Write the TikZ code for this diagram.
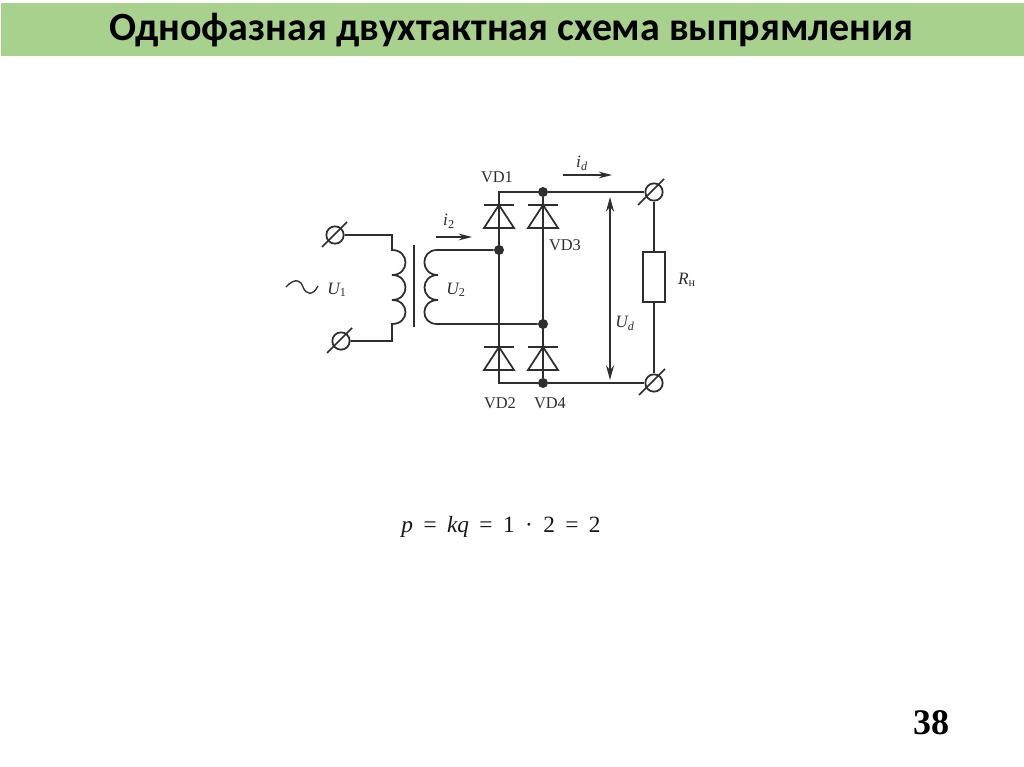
\documentclass[tikz,border=0pt]{standalone}
\usepackage{fontspec}
\setmainfont{Liberation Serif}
\newfontfamily\titlefont{Carlito}
\usetikzlibrary{arrows.meta}
\definecolor{titlegreen}{HTML}{A9D18E}
\definecolor{ink}{HTML}{2E2E2E}
\tikzset{
  wire/.style={draw=ink,line width=1.3pt},
  dot/.style={circle,fill=ink,draw=none,minimum size=7.5pt,inner sep=0pt},
  terminal/.style={circle,draw=ink,line width=1.3pt,fill=none,minimum size=13pt,inner sep=0pt},
  flow/.style={draw=ink,line width=1pt,-{Stealth[length=10pt,width=5pt]}},
  lab/.style={text=ink,font=\fontsize{12.3}{14}\selectfont,inner sep=0pt},
  sym/.style={text=ink,font=\fontsize{13}{15}\selectfont\itshape,inner sep=0pt},
}
\begin{document}
\begin{tikzpicture}[x=0.75pt,y=-0.75pt]
\useasboundingbox (0,0) rectangle (1024,767);
\fill[white] (0,0) rectangle (1024,767);
\fill[titlegreen] (1,3) rectangle (1024,56);
\node[text=black,font=\titlefont\bfseries\fontsize{30}{34}\selectfont,inner sep=0pt] (title) at (511.5,30) {Однофазная двухтактная схема выпрямления};
% terminals
\node[terminal] (t1) at (335,235) {};
\node[terminal] (t2) at (341,341) {};
\node[terminal] (t3) at (654,192) {};
\node[terminal] (t4) at (654,383) {};
\foreach \n/\a/\b/\c/\d in {t1/322/247/347/222,t2/327/353/352/328,t3/638/205/664/179,t4/639/395/665/369}
  \draw[wire] (\a,\b) -- (\c,\d);
% junctions
\node[dot] (j1) at (543,192) {};
\node[dot] (j2) at (499,250) {};
\node[dot] (j3) at (543,324) {};
\node[dot] (j4) at (543,383) {};
\coordinate (a1) at (499,192);
\coordinate (a2) at (499,383);
\coordinate (p1) at (392,235);
\coordinate (p2) at (392,250);
\coordinate (p3) at (392,324);
\coordinate (p4) at (392,341);
% primary winding
\draw[wire] (t1) -- (p1) -- (p2)
  .. controls (410,250) and (410,275) .. (392,275)
  .. controls (410,275) and (410,300) .. (392,300)
  .. controls (410,300) and (410,324) .. (392,324)
  -- (p4) -- (t2);
% core
\draw[wire] (414,245) -- (414,327);
% secondary winding
\draw[wire] (j2) -- (437,250)
  .. controls (420,250) and (420,275) .. (438,275)
  .. controls (420,275) and (420,300) .. (438,300)
  .. controls (420,300) and (420,324) .. (437,324)
  -- (j3);
% bridge
\draw[wire] (j1) -- (a1) -- (a2) -- (j4);
\draw[wire] (j1) -- (j4);
\draw[wire] (j1) -- (t3);
\draw[wire] (j4) -- (t4);
% diodes
\foreach \x/\ytop/\ybase in {499/205/228,543/205/228,499/347/370,543/347/370}{
  \draw[wire] (\x-15,\ytop) -- (\x+15,\ytop);
  \draw[wire] (\x,\ytop) -- (\x-15,\ybase) -- (\x+15,\ybase) -- cycle;
}
% load
\node[draw=ink,line width=1.3pt,fill=white,minimum width=16.5pt,minimum height=37.5pt,inner sep=0pt] (r) at (654,277) {};
\draw[wire] (t3) -- (r);
\draw[wire] (r) -- (t4);
% arrows
\coordinate (ua) at (610,197);
\coordinate (ub) at (610,380);
\draw[draw=ink,line width=1.3pt,{Stealth[length=11pt,width=6pt]}-{Stealth[length=11pt,width=6pt]}] (ua) -- (ub);
\coordinate (ia) at (563,175);
\coordinate (ib) at (612,175);
\draw[flow] (ia) -- (ib);
\coordinate (ic) at (436,237);
\coordinate (id) at (472,237);
\draw[flow] (ic) -- (id);
% tilde
\draw[draw=ink,line width=1pt] (286,287) .. controls (296,276) and (302,282) .. (303,287) .. controls (306,295) and (313,296) .. (318,286);
% labels
\node[lab] (vd1) at (497,177) {VD1};
\node[lab] (vd3) at (565,245) {VD3};
\node[lab] (vd2) at (500,403) {VD2};
\node[lab] (vd4) at (550,403) {VD4};
\node[sym] (lid) at (582,163) {i\textsubscript{d}};
\node[sym] (li2) at (449,221) {i\textsubscript{\upshape 2}};
\node[sym] (lu1) at (337,290) {U\textsubscript{\upshape 1}};
\node[sym] (lu2) at (456,290) {U\textsubscript{\upshape 2}};
\node[sym] (lud) at (625,323) {U\textsubscript{d}};
\node[sym] (lr) at (687,280) {R\textsubscript{\upshape н}};
% formula
\node[text=black!90,font=\fontsize{17.5}{20}\selectfont,inner sep=0pt] (eq) at (501,527) {\spaceskip=7.8pt \textit{p} = \textit{kq} = 1 · 2 = 2};
\node[text=black,font=\bfseries\fontsize{27}{30}\selectfont,inner sep=0pt] (pg) at (931,723) {38};
\end{tikzpicture}
\end{document}
